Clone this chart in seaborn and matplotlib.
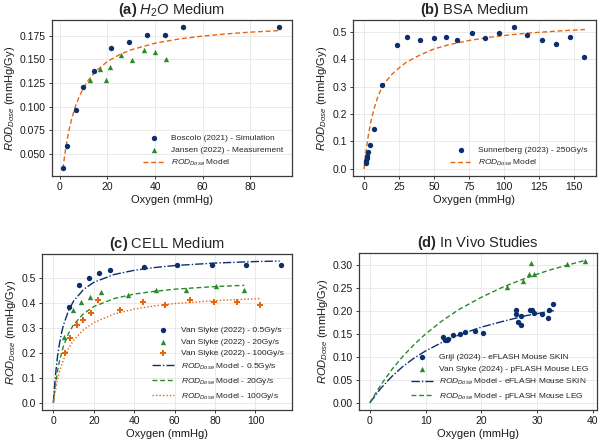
import numpy as np
import pandas as pd
import matplotlib
matplotlib.use("Agg")
import matplotlib.pyplot as plt
import seaborn as sns


# ROD_Dose vs oxygen, four media / studies

# (a) H2O medium
boscolo_x = [1.4, 3.2, 6.6, 9.9, 14.2, 21.4, 29.1, 36.7, 44.4, 51.6, 92.1]
boscolo_y = [0.0353, 0.0587, 0.0963, 0.1202, 0.1377, 0.1617, 0.1686, 0.1755, 0.1755, 0.184, 0.184]
jansen_x = [12.5, 16.8, 19.3, 21.1, 25.5, 30.2, 35.2, 40.0, 44.6]
jansen_y = [0.1286, 0.1395, 0.1286, 0.1415, 0.1545, 0.1487, 0.1598, 0.1575, 0.1507]
model_a_x = [1.3, 2, 3, 4, 5, 6.5, 8, 10, 12, 15, 20, 25, 30, 40, 50, 60, 70, 80, 93]
model_a_y = [0.0342, 0.048, 0.064, 0.0768, 0.0873, 0.0998, 0.1097, 0.12, 0.128, 0.1371,
             0.1477, 0.1548, 0.16, 0.167, 0.1714, 0.1745, 0.1768, 0.1786, 0.1804]

# (b) BSA medium
sunn_x = [1.2, 1.5, 1.9, 2.3, 3.0, 4.2, 7.0, 12.6, 23.4, 30.7, 40.0, 49.9, 58.3, 66.7,
          77.0, 86.6, 96.7, 107.4, 116.8, 127.6, 137.4, 147.5, 157.5]
sunn_y = [0.022, 0.030, 0.038, 0.048, 0.060, 0.087, 0.147, 0.305, 0.453, 0.482, 0.471,
          0.477, 0.480, 0.469, 0.495, 0.477, 0.494, 0.517, 0.487, 0.469, 0.457, 0.479, 0.407]
model_b_x = [0, 1, 2, 3, 5, 7.5, 10, 12.6, 15, 20, 25, 30, 40, 50, 60, 75, 90, 105, 120, 140, 158]
model_b_y = [0, 0.045, 0.085, 0.12, 0.175, 0.225, 0.265, 0.295, 0.315, 0.345, 0.368, 0.388,
             0.415, 0.437, 0.452, 0.468, 0.48, 0.489, 0.496, 0.503, 0.508]

# (c) CELL medium
vs05_x = [7.8, 12.7, 17.5, 22.7, 28.2, 44.7, 61.3, 78.3, 95.5, 112.5]
vs05_y = [0.382, 0.471, 0.501, 0.521, 0.531, 0.542, 0.552, 0.552, 0.552, 0.552]
vs20_x = [5.5, 9.5, 13.7, 18.3, 23.5, 36.8, 51.0, 65.5, 80.3, 94.5]
vs20_y = [0.264, 0.371, 0.402, 0.424, 0.442, 0.433, 0.450, 0.450, 0.466, 0.450]
vs100_x = [5.7, 8.3, 11.5, 14.8, 18.5, 22.3, 32.8, 44.2, 55.5, 67.5, 79.3, 91.0, 102.2]
vs100_y = [0.201, 0.261, 0.311, 0.332, 0.361, 0.412, 0.371, 0.402, 0.390, 0.411, 0.402, 0.402, 0.391]
m05_x = [0, 0.5, 1, 2, 3, 4, 5, 7.5, 10, 15, 20, 30, 40, 50, 60, 80, 100, 112]
m05_y = [0, 0.059, 0.107, 0.182, 0.236, 0.278, 0.311, 0.369, 0.407, 0.454, 0.482, 0.513,
         0.530, 0.541, 0.549, 0.559, 0.565, 0.567]
m20_x = [0, 0.5, 1, 2, 3, 5, 7.5, 10, 15, 20, 30, 40, 50, 60, 80, 94.5]
m20_y = [0, 0.038, 0.071, 0.125, 0.167, 0.227, 0.278, 0.3125, 0.357, 0.385, 0.417, 0.435,
         0.446, 0.4545, 0.465, 0.470]
m100_x = [0, 0.5, 1, 2, 3, 5, 7.5, 10, 15, 20, 30, 40, 50, 60, 80, 102]
m100_y = [0, 0.0265, 0.05, 0.09, 0.123, 0.173, 0.218, 0.25, 0.293, 0.321, 0.355, 0.375,
          0.388, 0.397, 0.409, 0.417]

# (d) in vivo
grijl_x = [13.2, 13.4, 13.8, 14.1, 14.9, 16.1, 17.0, 18.8, 20.3, 26.2, 26.2, 26.5, 27.1,
           27.2, 28.7, 29.1, 29.5, 30.8, 31.9, 32.2, 32.9]
grijl_y = [0.1435, 0.136, 0.1376, 0.139, 0.147, 0.151, 0.1536, 0.1558, 0.152, 0.203, 0.1945,
           0.176, 0.1886, 0.170, 0.203, 0.2017, 0.196, 0.193, 0.1857, 0.203, 0.216]
vs24_x = [24.6, 27.5, 28.5, 28.9, 29.4, 35.4, 38.5]
vs24_y = [0.2516, 0.2665, 0.281, 0.304, 0.281, 0.303, 0.308]
mskin_x = [0, 2, 4, 6, 8, 10, 13, 16, 20, 24, 28, 33]
mskin_y = [0, 0.032, 0.058, 0.080, 0.098, 0.113, 0.132, 0.148, 0.165, 0.178, 0.190, 0.201]
mleg_x = [0, 2, 4, 6, 8, 10, 13, 16, 20, 24, 28, 32, 36, 38.8]
mleg_y = [0, 0.0396, 0.0733, 0.1024, 0.1276, 0.150, 0.179, 0.2035, 0.230, 0.253, 0.272,
          0.2885, 0.302, 0.311]


navy = "#0b2f6e"
green = "#2a8a2a"
orange = "#e8650a"
rod = "$ROD_{Dose}$"

sns.set_style("whitegrid", {"axes.edgecolor": "#3a3a3a", "grid.color": "#e6e6e6",
                            "xtick.bottom": True, "ytick.left": True})
plt.rcParams["font.family"] = ["Liberation Sans", "DejaVu Sans"]
plt.rcParams["mathtext.fontset"] = "custom"
plt.rcParams["mathtext.rm"] = "Liberation Sans"
plt.rcParams["mathtext.it"] = "Liberation Sans:italic"
plt.rcParams["mathtext.bf"] = "Liberation Sans:bold"
plt.rcParams["axes.linewidth"] = 0.9
plt.rcParams["grid.linewidth"] = 0.6
plt.rcParams["xtick.major.size"] = 2.5
plt.rcParams["ytick.major.size"] = 2.5
plt.rcParams["xtick.major.width"] = 0.7
plt.rcParams["ytick.major.width"] = 0.7
plt.rcParams["xtick.color"] = "#3a3a3a"
plt.rcParams["ytick.color"] = "#3a3a3a"
plt.rcParams["xtick.labelcolor"] = "#1a1a1a"
plt.rcParams["ytick.labelcolor"] = "#1a1a1a"
plt.rcParams["axes.labelcolor"] = "#1a1a1a"

fig = plt.figure(figsize=(6, 4.45), dpi=100)
ax_a = fig.add_axes([0.0867, 0.6045, 0.40, 0.3506])
ax_b = fig.add_axes([0.5883, 0.6045, 0.405, 0.3506])
ax_c = fig.add_axes([0.070, 0.0787, 0.4167, 0.3506])
ax_d = fig.add_axes([0.5983, 0.0787, 0.3967, 0.3528])

ms = 15


def pts(ax, x, y, color, marker, label, s=ms):
    sns.scatterplot(x=x, y=y, ax=ax, color=color, marker=marker, s=s,
                    linewidth=0, label=label, zorder=3)


def curve(ax, x, y, color, ls, label):
    sns.lineplot(x=x, y=y, ax=ax, color=color, linestyle=ls, linewidth=1.0,
                 sort=False, estimator=None, label=label, zorder=2)


# (a)
pts(ax_a, boscolo_x, boscolo_y, navy, "o", "Boscolo (2021) - Simulation")
pts(ax_a, jansen_x, jansen_y, green, "^", "Jansen (2022) - Measurement")
curve(ax_a, model_a_x, model_a_y, orange, (0, (3.5, 2)), rod + " Model")
ax_a.set_title(r"$\bf{(a)}$ $H_2O$ Medium", fontsize=10.5, pad=4)
ax_a.set_yticks([0.05, 0.075, 0.1, 0.125, 0.15, 0.175])

# (b)
pts(ax_b, sunn_x, sunn_y, navy, "o", "Sunnerberg (2023) - 250Gy/s")
curve(ax_b, model_b_x, model_b_y, orange, (0, (3.5, 2)), rod + " Model")
ax_b.set_title(r"$\bf{(b)}$ BSA Medium", fontsize=10.5, pad=4)
ax_b.set_xticks([0, 25, 50, 75, 100, 125, 150])

# (c)
pts(ax_c, vs05_x, vs05_y, navy, "o", "Van Slyke (2022) - 0.5Gy/s")
pts(ax_c, vs20_x, vs20_y, green, "^", "Van Slyke (2022) - 20Gy/s")
pts(ax_c, vs100_x, vs100_y, orange, "P", "Van Slyke (2022) - 100Gy/s", s=20)
curve(ax_c, m05_x, m05_y, navy, (0, (6, 1.5, 1, 1.5)), rod + " Model - 0.5Gy/s")
curve(ax_c, m20_x, m20_y, green, (0, (3.5, 2)), rod + " Model - 20Gy/s")
curve(ax_c, m100_x, m100_y, orange, (0, (1, 1.5)), rod + " Model - 100Gy/s")
ax_c.set_title(r"$\bf{(c)}$ CELL Medium", fontsize=10.5, pad=4)

# (d)
pts(ax_d, grijl_x, grijl_y, navy, "o", "Grijl (2024) - eFLASH Mouse SKIN")
pts(ax_d, vs24_x, vs24_y, green, "^", "Van Slyke (2024) - pFLASH Mouse LEG")
curve(ax_d, mskin_x, mskin_y, navy, (0, (6, 1.5, 1, 1.5)), rod + " Model - eFLASH Mouse SKIN")
curve(ax_d, mleg_x, mleg_y, green, (0, (3.5, 2)), rod + " Model - pFLASH Mouse LEG")
ax_d.set_title(r"$\bf{(d)}$ In Vivo Studies", fontsize=10.5, pad=4)
ax_d.set_yticks([0, 0.05, 0.1, 0.15, 0.2, 0.25, 0.3])

for ax in [ax_a, ax_b, ax_c, ax_d]:
    ax.set_xlabel("Oxygen (mmHg)", fontsize=8, labelpad=2)
    ax.set_ylabel(rod + " (mmHg/Gy)", fontsize=8, labelpad=2)
    ax.tick_params(labelsize=7.5, pad=2)
    ax.legend(loc="lower right", frameon=False, fontsize=6, handlelength=2.6,
              borderaxespad=0.6, labelspacing=0.45, markerscale=1.0)
    for sp in ax.spines.values():
        sp.set_visible(True)

fig.savefig("out.png", dpi=100)
